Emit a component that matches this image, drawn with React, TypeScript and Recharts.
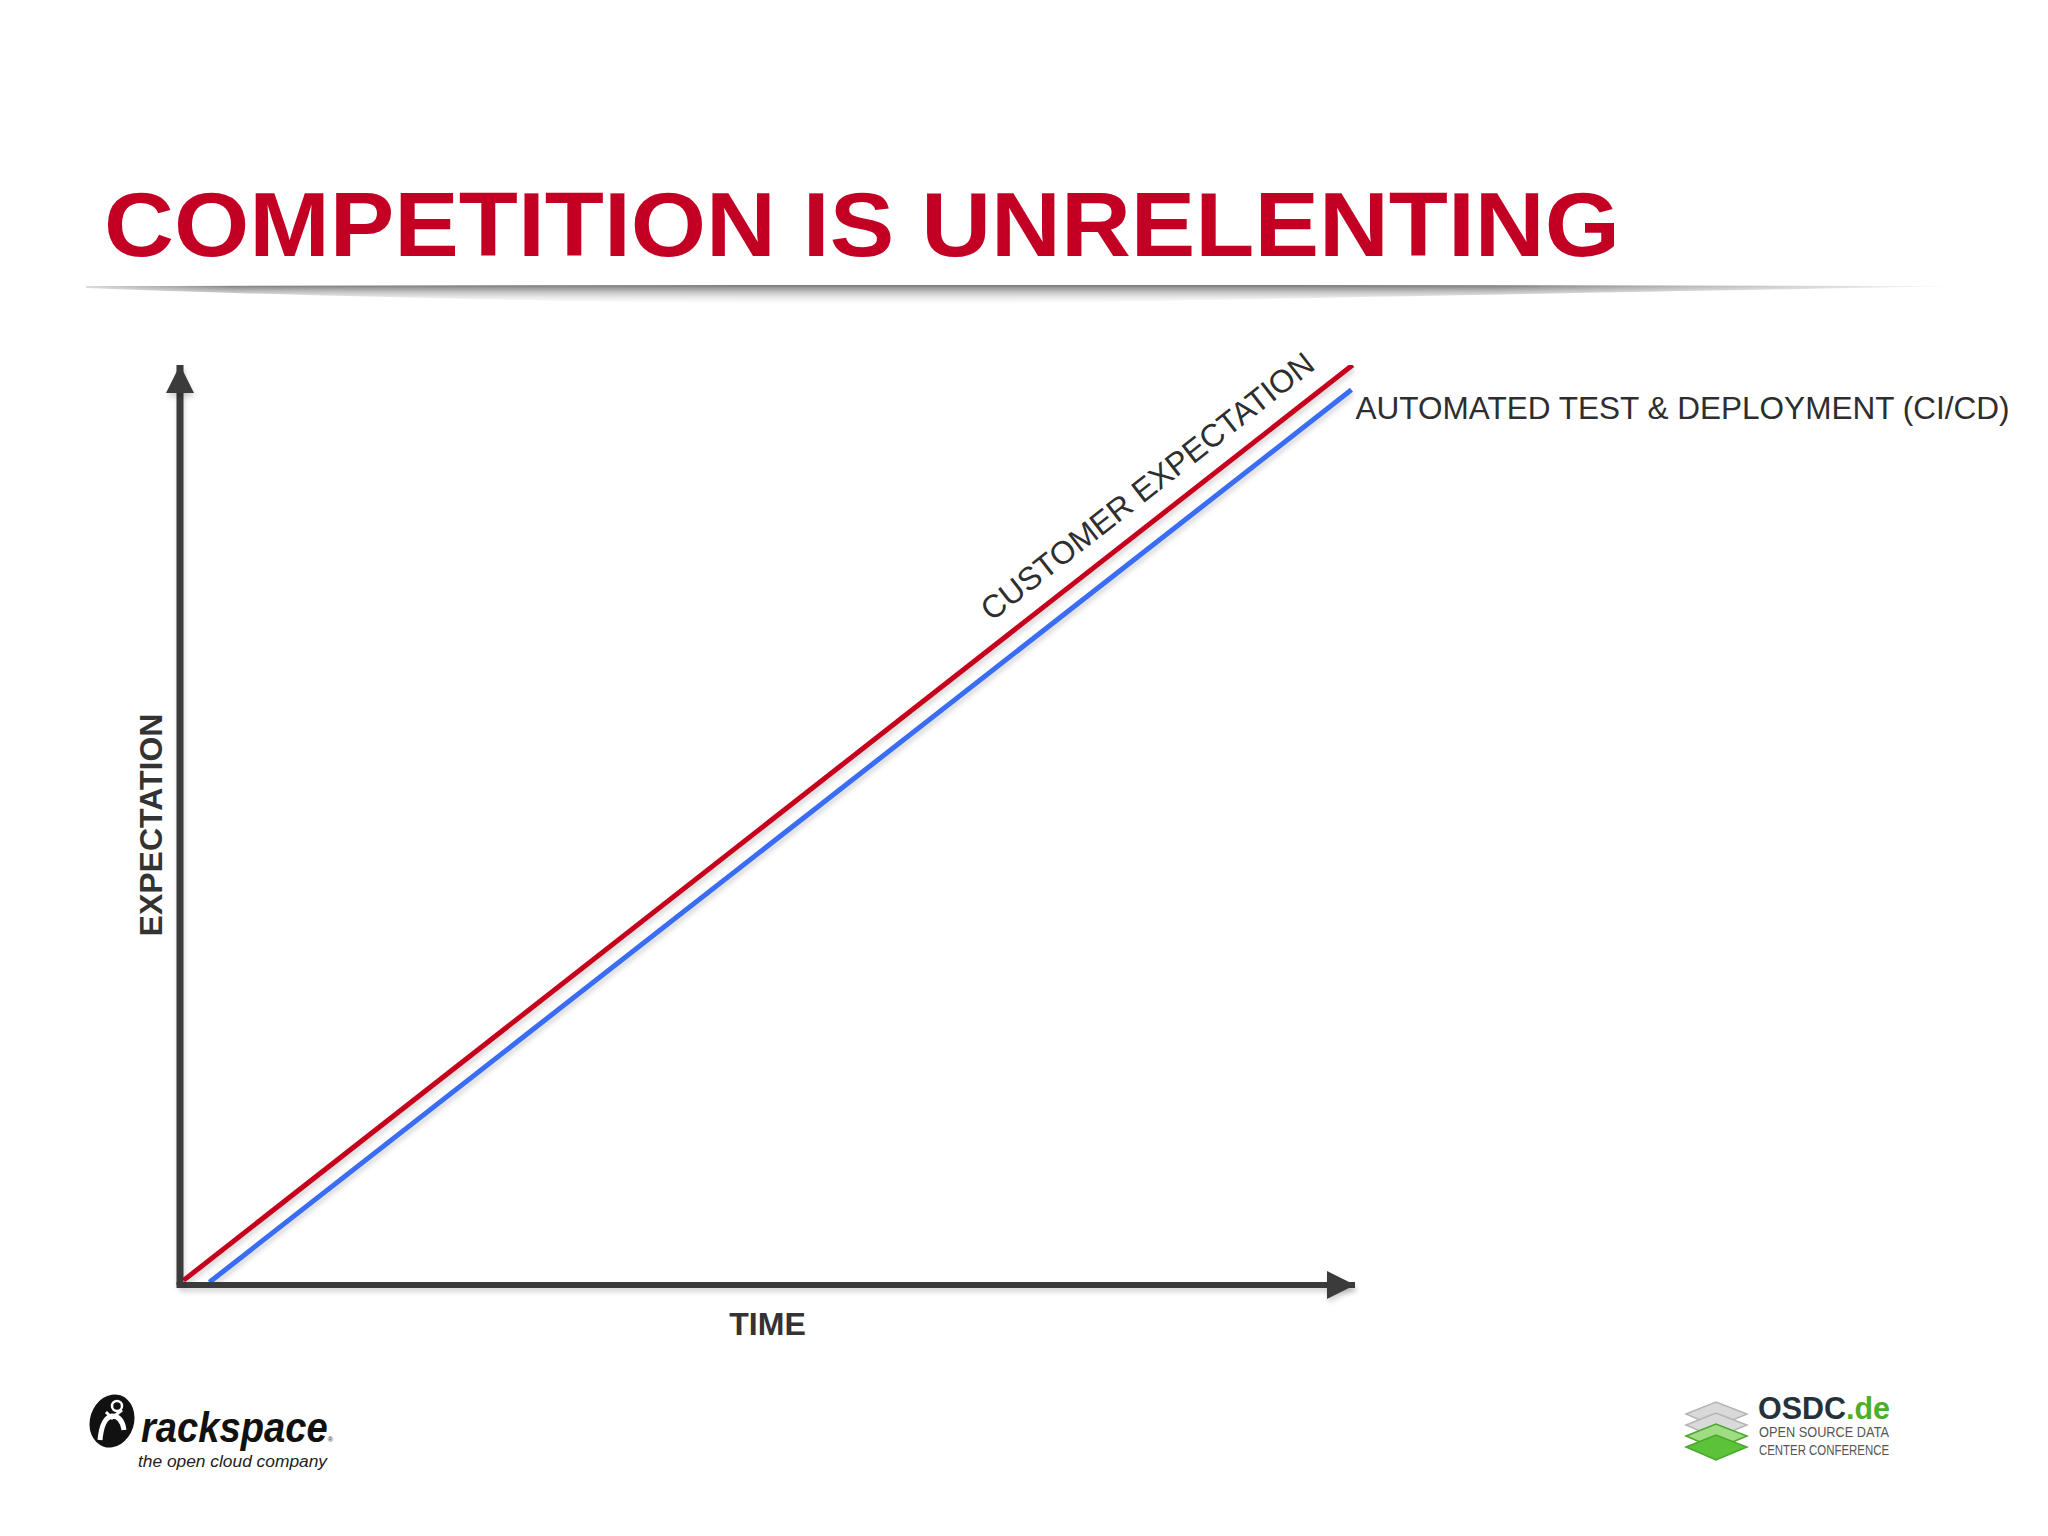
import React from 'react';
import { LineChart, Line, XAxis, YAxis, ReferenceDot, LabelList } from 'recharts';

// axis ranges (arbitrary units, the slide has no ticks)
const TIME_DOMAIN = [0, 100];
const EXPECTATION_DOMAIN = [0, 100];

// customer expectation line (red)
const customerTime = [0.3, 99.8];
const customerExpectation = [0.5, 100];

// CI/CD line (blue), starts a bit later and ends a bit lower
const cicdTime = [2.5, 99.7];
const cicdExpectation = [0.3, 97.3];

const SERIES_NAMES = ['CUSTOMER EXPECTATION', 'AUTOMATED TEST & DEPLOYMENT (CI/CD)'];
const TITLE = 'COMPETITION IS UNRELENTING';
const X_LABEL = 'TIME';
const Y_LABEL = 'EXPECTATION';

const customerData = customerTime.map((t, i) => ({ time: t, value: customerExpectation[i] }));
const cicdData = cicdTime.map((t, i) => ({ time: t, value: cicdExpectation[i] }));

const AXIS_COLOR = '#3b3b3b';
const RED = '#c6001f';
const BLUE = '#3a6cf4';
const TITLE_RED = '#c30024';
const FONT = '"Liberation Sans", Arial, Helvetica, sans-serif';

const TimeLabel = (props: any) => {
  const vb = props.viewBox || {};
  return (
    <text
      x={vb.x + vb.width / 2}
      y={vb.y + 50}
      textAnchor="middle"
      fontFamily={FONT}
      fontWeight="bold"
      fontSize={32}
      fill="#333"
    >
      {X_LABEL}
    </text>
  );
};

const ExpectationLabel = (props: any) => {
  const vb = props.viewBox || {};
  const x = vb.x + 42;
  const y = vb.y + vb.height / 2;
  return (
    <text
      x={x}
      y={y}
      transform={`rotate(-90, ${x}, ${y})`}
      textAnchor="middle"
      fontFamily={FONT}
      fontWeight="bold"
      fontSize={32}
      fill="#333"
    >
      {Y_LABEL}
    </text>
  );
};

const CustomerLabel = (props: any) => {
  const { x, y, index } = props;
  if (index !== customerData.length - 1) return null;
  const tx = x - 36;
  const ty = y + 3;
  return (
    <text
      x={tx}
      y={ty}
      transform={`rotate(-38, ${tx}, ${ty})`}
      textAnchor="end"
      fontFamily={FONT}
      fontSize={32}
      fill="#2e2e2e"
    >
      {SERIES_NAMES[0]}
    </text>
  );
};

const CicdLabel = (props: any) => {
  const { x, y, index } = props;
  if (index !== cicdData.length - 1) return null;
  return (
    <text x={x + 4} y={y + 29} fontFamily={FONT} fontSize={31} fill="#2e2e2e" textLength={654} lengthAdjust="spacingAndGlyphs">
      {SERIES_NAMES[1]}
    </text>
  );
};

const XArrow = (props: any) => {
  const { cx, cy } = props;
  return <path d={`M${cx} ${cy} L${cx - 28} ${cy - 14} L${cx - 28} ${cy + 14} Z`} fill={AXIS_COLOR} filter="url(#softShadow)" />;
};

const YArrow = (props: any) => {
  const { cx, cy } = props;
  return <path d={`M${cx} ${cy} L${cx - 14} ${cy + 28} L${cx + 14} ${cy + 28} Z`} fill={AXIS_COLOR} filter="url(#softShadow)" />;
};

const Corner = (props: any) => {
  const { cx, cy } = props;
  return <rect x={cx - 3.5} y={cy - 3} width={7} height={6} fill={AXIS_COLOR} />;
};

const RackspaceLogo = () => (
  <g>
    <ellipse cx={112} cy={1421} rx={22} ry={27} transform="rotate(18, 112, 1421)" fill="#111" />
    <circle cx={117} cy={1406} r={5} fill="none" stroke="#fff" strokeWidth={2.5} />
    <path d="M100 1440 Q102 1418 112 1416 Q122 1416 124 1430" fill="none" stroke="#fff" strokeWidth={5} />
    <path d="M106 1412 L112 1418 L122 1410" fill="none" stroke="#fff" strokeWidth={3} />
    <text x={141} y={1442} fontFamily={FONT} fontWeight="bold" fontStyle="italic" fontSize={42} fill="#111" textLength={192} lengthAdjust="spacingAndGlyphs">
      rackspace<tspan fontSize={8} fontStyle="normal" fill="#555">®</tspan>
    </text>
    <text x={138} y={1467} fontFamily={FONT} fontStyle="italic" fontSize={16} fill="#222" textLength={189} lengthAdjust="spacingAndGlyphs">
      the open cloud company
    </text>
  </g>
);

const OsdcLogo = () => {
  const plates = [0, 1, 2, 3];
  return (
    <g>
      {plates.map((i) => {
        const y = 1414 + i * 11;
        const green = i >= 2;
        return (
          <path
            key={i}
            d={`M1686 ${y} L1716 ${y - 12} L1747 ${y} L1716 ${y + 13} Z`}
            fill={green ? (i === 3 ? '#5cc23a' : '#9fdc83') : '#d9d9d9'}
            stroke={green ? '#4aa82c' : '#b5b5b5'}
            strokeWidth={1.5}
          />
        );
      })}
      <text x={1758} y={1419} fontFamily={FONT} fontWeight="bold" fontSize={31} fill="#26323a" textLength={132} lengthAdjust="spacingAndGlyphs">
        OSDC<tspan fill="#4caf2a">.de</tspan>
      </text>
      <text x={1759} y={1437} fontFamily={FONT} fontSize={14} fill="#555" textLength={130} lengthAdjust="spacingAndGlyphs">
        OPEN SOURCE DATA
      </text>
      <text x={1759} y={1455} fontFamily={FONT} fontSize={14} fill="#555" textLength={130} lengthAdjust="spacingAndGlyphs">
        CENTER CONFERENCE
      </text>
    </g>
  );
};

const App = () => {
  return (
    <div style={{ position: 'absolute', left: 0, top: 0, width: 2048, height: 1536, background: '#fff', overflow: 'hidden' }}>
      <svg width={2048} height={1536} style={{ position: 'absolute', left: 0, top: 0 }}>
        <defs>
          <linearGradient id="dividerFill" x1="0" y1="0" x2="0" y2="1">
            <stop offset="0%" stopColor="#6f6f6f" stopOpacity={0.95} />
            <stop offset="35%" stopColor="#a0a0a0" stopOpacity={0.6} />
            <stop offset="100%" stopColor="#ffffff" stopOpacity={0} />
          </linearGradient>
          <linearGradient id="dividerFade" x1="0" y1="0" x2="1" y2="0">
            <stop offset="0%" stopColor="#fff" stopOpacity={0.3} />
            <stop offset="8%" stopColor="#fff" stopOpacity={1} />
            <stop offset="75%" stopColor="#fff" stopOpacity={1} />
            <stop offset="100%" stopColor="#fff" stopOpacity={0} />
          </linearGradient>
          <mask id="dividerMask">
            <rect x={80} y={280} width={1890} height={40} fill="url(#dividerFade)" />
          </mask>
        </defs>
        <text
          x={104}
          y={256}
          fontFamily={FONT}
          fontWeight="bold"
          fontSize={90}
          fill={TITLE_RED}
          textLength={1516}
          lengthAdjust="spacingAndGlyphs"
        >
          {TITLE}
        </text>
        <path
          d="M86 286 Q1000 284 1962 286 Q1200 300 900 306 Q400 300 86 288 Z"
          fill="url(#dividerFill)"
          mask="url(#dividerMask)"
        />
        <RackspaceLogo />
        <OsdcLogo />
      </svg>

      <div style={{ position: 'absolute', left: 0, top: 300 }}>
        <LineChart width={2048} height={1100} margin={{ top: 65, right: 693, bottom: 55, left: 120 }}>
          <defs>
            <filter id="softShadow" filterUnits="userSpaceOnUse" x={0} y={0} width={2048} height={1100}>
              <feDropShadow dx={1} dy={4} stdDeviation={2.5} floodColor="#000" floodOpacity={0.16} />
            </filter>
          </defs>
          <XAxis
            dataKey="time"
            type="number"
            domain={TIME_DOMAIN}
            allowDataOverflow
            tick={false}
            tickLine={false}
            height={60}
            axisLine={{ stroke: AXIS_COLOR, strokeWidth: 6, filter: 'url(#softShadow)' }}
            label={(p: any) => <TimeLabel {...p} />}
          />
          <YAxis
            dataKey="value"
            type="number"
            domain={EXPECTATION_DOMAIN}
            allowDataOverflow
            tick={false}
            tickLine={false}
            width={60}
            axisLine={{ stroke: AXIS_COLOR, strokeWidth: 7, filter: 'url(#softShadow)' }}
            label={(p: any) => <ExpectationLabel {...p} />}
          />
          <Line
            data={customerData}
            dataKey="value"
            type="linear"
            stroke={RED}
            strokeWidth={5}
            dot={false}
            activeDot={false}
            isAnimationActive={false}
            filter="url(#softShadow)"
          >
            <LabelList dataKey="value" content={CustomerLabel} />
          </Line>
          <Line
            data={cicdData}
            dataKey="value"
            type="linear"
            stroke={BLUE}
            strokeWidth={5}
            dot={false}
            activeDot={false}
            isAnimationActive={false}
            filter="url(#softShadow)"
          >
            <LabelList dataKey="value" content={CicdLabel} />
          </Line>
          <ReferenceDot x={TIME_DOMAIN[0]} y={EXPECTATION_DOMAIN[0]} r={0} shape={Corner} />
          <ReferenceDot x={TIME_DOMAIN[1]} y={EXPECTATION_DOMAIN[0]} r={0} shape={XArrow} />
          <ReferenceDot x={TIME_DOMAIN[0]} y={EXPECTATION_DOMAIN[1]} r={0} shape={YArrow} />
        </LineChart>
      </div>
    </div>
  );
};

export default App;
